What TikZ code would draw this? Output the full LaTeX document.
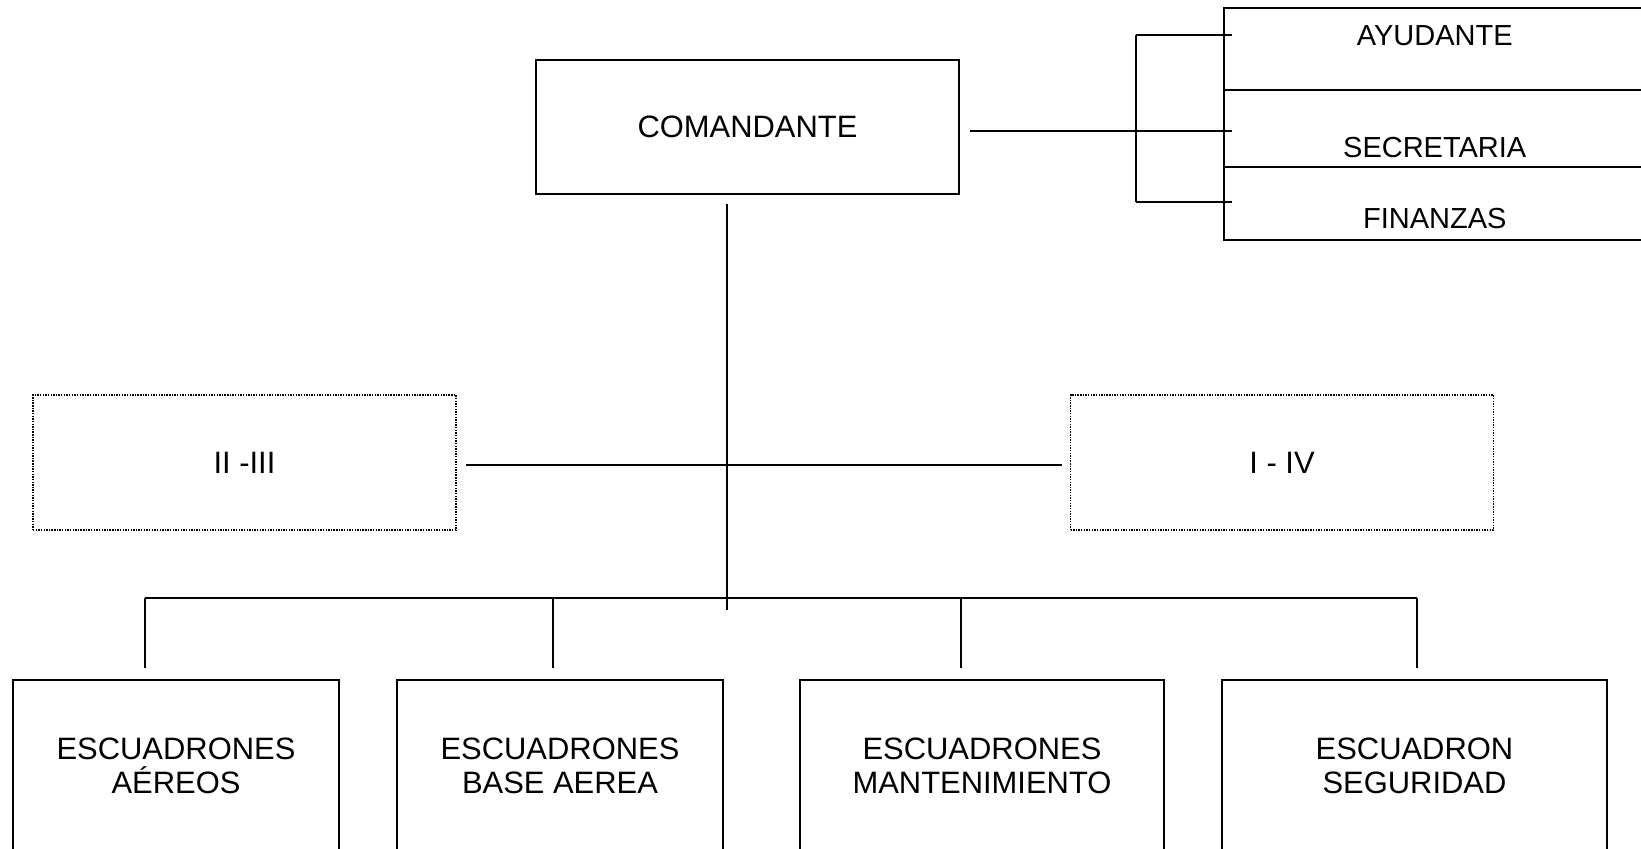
\documentclass[tikz,border=0pt]{standalone}
\usepackage{fontspec}
\setmainfont{Liberation Sans}
\usetikzlibrary{positioning,calc}

\begin{document}
\begin{tikzpicture}[x=0.02cm, y=-0.02cm, line width=0.9pt,
		box/.style={draw, rectangle, inner sep=0pt, align=center, font=\fontsize{17.6}{19.4}\selectfont},
		dotbox/.style={box, dash pattern=on 0.8pt off 0.7pt, line width=0.8pt, minimum width=8.46cm, minimum height=2.7cm},
		sidebox/.style={draw, rectangle, inner sep=0pt, anchor=north west, minimum width=8.44cm, font=\fontsize{16.5}{18}\selectfont}]
		\useasboundingbox (0,0) rectangle (1641,849);
		\clip (0,0) rectangle (1641,849);
		
		% Commander
		\node[box, minimum width=8.46cm, minimum height=2.68cm] (cmd) at (747.5,127) {COMANDANTE};
		
		% Staff boxes (right edge runs off the page)
		\node[sidebox, text height=0.76cm, text depth=0.88cm] (ayud) at (1223,7) {AYUDANTE};
		\node[sidebox, text height=1.36cm, text depth=0.18cm] (sec) at (1223,89) {SECRETARIA};
		\node[sidebox, text height=1.24cm, text depth=0.22cm] (fin) at (1223,166) {FINANZAS};
		
		% Dotted side boxes
		\node[dotbox] (ra) at (244.5,462.5) {II -III};
		\node[dotbox] (rb) at (1282,462.5) {I - IV};
		
		% Squadrons
		\node[box, minimum width=6.52cm, minimum height=3.42cm] (esc1) at (176,765.5) {ESCUADRONES\\AÉREOS};
		\node[box, minimum width=6.52cm, minimum height=3.42cm] (esc2) at (560,765.5) {ESCUADRONES\\BASE AEREA};
		\node[box, minimum width=7.28cm, minimum height=3.42cm] (esc3) at (982,765.5) {ESCUADRONES\\MANTENIMIENTO};
		\node[box, minimum width=7.7cm, minimum height=3.42cm] (esc4) at (1414.5,765.5) {ESCUADRON\\SEGURIDAD};
		
		% junctions
		\coordinate (t0) at (727,204);
		\coordinate (t1) at (727,610);
		\coordinate (j1) at (1136,35);
		\coordinate (j2) at (1136,131);
		\coordinate (j3) at (1136,202);
		\foreach \n/\x in {1/145,2/553,3/961,4/1417} {
			\coordinate (b\n) at (\x,598);
		}
		
		% staff bracket
		\draw[shorten <=0.2cm, shorten >=-0.18cm] (cmd.east |- j2) -- (sec.west |- j2);
		\draw[shorten >=-0.18cm] (j1) -- (ayud.west |- j1);
		\draw[shorten >=-0.18cm] (j3) -- (fin.west |- j3);
		\draw (j1) -- (j3);
		
		% trunk and side line
		\draw (t0) -- (t1);
		\draw[shorten <=0.18cm, shorten >=0.16cm] ([yshift=-0.05cm]ra.east) -- ([yshift=-0.05cm]rb.west);
		
		% bus to squadrons
		\draw (b1) -- (b4);
		\foreach \n in {1,...,4} {
			\draw[shorten >=0.22cm] (b\n) -- (b\n |- esc\n.north);
		}
	\end{tikzpicture}
\end{document}
